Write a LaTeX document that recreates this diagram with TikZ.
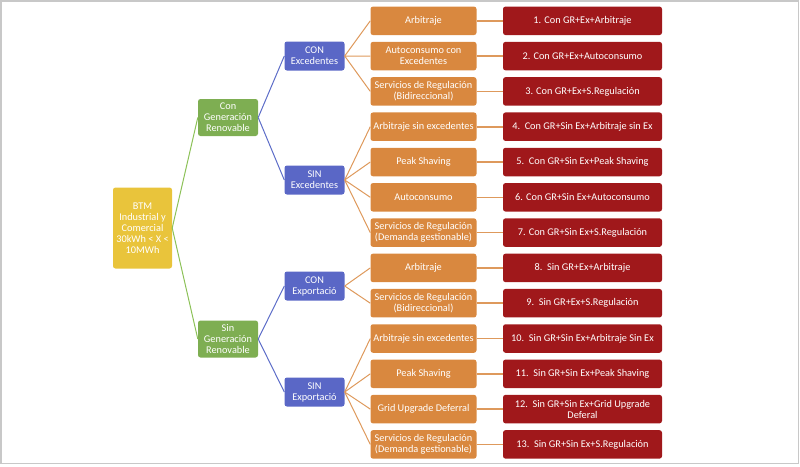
\documentclass[tikz,border=0pt]{standalone}
\usepackage{fontspec}
\setmainfont{Carlito}
\definecolor{cyel}{HTML}{E9C43B}
\definecolor{cgrn}{HTML}{7EAE52}
\definecolor{cblu}{HTML}{5A67C6}
\definecolor{cora}{HTML}{D9883F}
\definecolor{cred}{HTML}{A0181B}
\definecolor{lgrn}{HTML}{8CC158}
\definecolor{lblu}{HTML}{5D6DC8}
\definecolor{lora}{HTML}{DE995C}
\definecolor{frame}{HTML}{C8C8C8}
\begin{document}
\begin{tikzpicture}[x=1pt,y=-1pt,
  box/.style={rounded corners=2.5pt, inner sep=0pt, align=center, text=white,
    font=\fontsize{10.3}{11}\selectfont},
  rootbox/.style={box, fill=cyel, minimum width=59pt, minimum height=81pt},
  grnbox/.style={box, fill=cgrn, minimum width=60pt, minimum height=37pt},
  blubox/.style={box, fill=cblu, minimum width=60pt, minimum height=29pt},
  orabox/.style={box, fill=cora, minimum width=106pt, minimum height=28.5pt},
  redbox/.style={box, fill=cred, minimum width=159pt, minimum height=28.5pt},
  gline/.style={draw=lgrn, line width=1pt},
  bline/.style={draw=lblu, line width=1pt},
  oline/.style={draw=lora, line width=1pt},
  rline/.style={draw=lora, line width=1.6pt}]
\useasboundingbox (0,0) rectangle (800,466);
\draw[frame, line width=1.3pt] (1,1) rectangle (798.5,463.8);

\node[rootbox] (root) at (142.5,228) {BTM\\Industrial y\\Comercial\\30kWh < X <\\10MWh};
\node[grnbox] (g1) at (228,117.5) {Con\\Generación\\Renovable};
\node[grnbox] (g2) at (228,339) {Sin\\Generación\\Renovable};
\node[blubox] (b1) at (314.5,56) {CON\\Excedentes};
\node[blubox] (b2) at (314.5,180) {SIN\\Excedentes};
\node[blubox] (b3) at (314.5,286) {CON\\Exportació};
\node[blubox] (b4) at (314.5,392) {SIN\\Exportació};

\foreach \i/\t in {1/Arbitraje,
  2/{Autoconsumo con\\Excedentes},
  3/{Servicios de Regulación\\(Bidireccional)},
  4/Arbitraje sin excedentes,
  5/Peak Shaving,
  6/Autoconsumo,
  7/{Servicios de Regulación\\(Demanda gestionable)},
  8/Arbitraje,
  9/{Servicios de Regulación\\(Bidireccional)},
  10/Arbitraje sin excedentes,
  11/Peak Shaving,
  12/Grid Upgrade Deferral,
  13/{Servicios de Regulación\\(Demanda gestionable)}}
  {\node[orabox] (o\i) at (423.5,{20.8+35.3*(\i-1)}) {\t};}

\foreach \i/\t in {1/{1. Con GR+Ex+Arbitraje},
  2/{2. Con GR+Ex+Autoconsumo},
  3/{3. Con GR+Ex+S.Regulación},
  4/{4.\ \ Con GR+Sin Ex+Arbitraje sin Ex},
  5/{5.\ \ Con GR+Sin Ex+Peak Shaving},
  6/{6. Con GR+Sin Ex+Autoconsumo},
  7/{7. Con GR+Sin Ex+S.Regulación},
  8/{8.\ \ Sin GR+Ex+Arbitraje},
  9/{9.\ \ Sin GR+Ex+S.Regulación},
  10/{10.\ \ Sin GR+Sin Ex+Arbitraje Sin Ex},
  11/{11.\ \ Sin GR+Sin Ex+Peak Shaving},
  12/{12.\ \ Sin GR+Sin Ex+Grid Upgrade\\Deferal},
  13/{13.\ \ Sin GR+Sin Ex+S.Regulación}}
  {\node[redbox] (r\i) at (582.5,{20.8+35.3*(\i-1)}) {\t};}

\draw[gline] (root.east) -- (g1.west);
\draw[gline] (root.east) -- (g2.west);
\draw[bline] (g1.east) -- (b1.west);
\draw[bline] (g1.east) -- (b2.west);
\draw[bline] (g2.east) -- (b3.west);
\draw[bline] (g2.east) -- (b4.west);
\foreach \i in {1,2,3} {\draw[oline] (b1.east) -- (o\i.west);}
\foreach \i in {4,5,6,7} {\draw[oline] (b2.east) -- (o\i.west);}
\foreach \i in {8,9} {\draw[oline] (b3.east) -- (o\i.west);}
\foreach \i in {10,11,12,13} {\draw[oline] (b4.east) -- (o\i.west);}
\foreach \i in {1,...,13} {\draw[rline] (o\i.east) -- (r\i.west);}
\end{tikzpicture}
\end{document}
